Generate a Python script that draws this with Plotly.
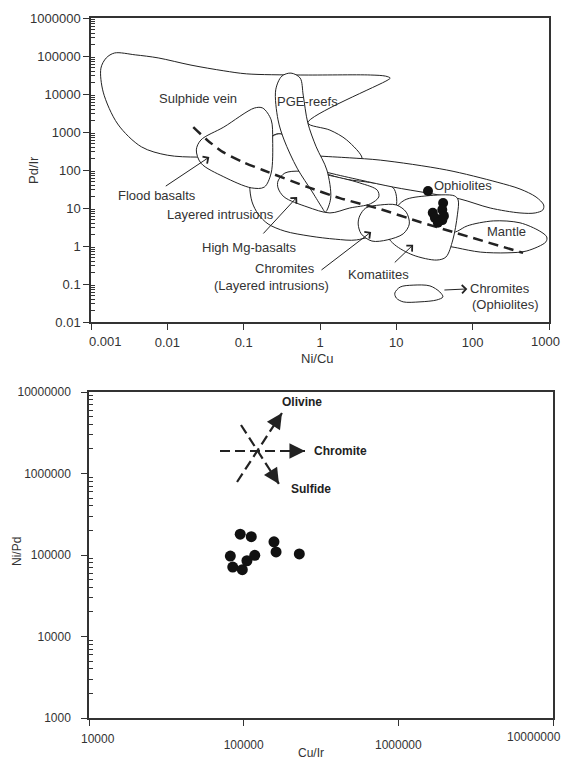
import math
import plotly.graph_objects as go

# ---------------- Top panel: Pd/Ir vs Ni/Cu ----------------
TOP_X_TICKS = [0.001, 0.01, 0.1, 1, 10, 100, 1000]
TOP_X_LABELS = ["0.001", "0.01", "0.1", "1", "10", "100", "1000"]
TOP_Y_TICKS = [0.01, 0.1, 1, 10, 100, 1000, 10000, 100000, 1000000]
TOP_Y_LABELS = ["0.01", "0.1", "1", "10", "100", "1000", "10000", "100000", "1000000"]

# samples (Ni/Cu, Pd/Ir)
SAMPLE_NI_CU = [26, 41, 40, 30, 32, 40, 35, 42]
SAMPLE_PD_IR = [28, 13.5, 9, 7.5, 5.5, 4.8, 4.1, 6.2]

# field outlines, given as log10(Ni/Cu), log10(Pd/Ir)
SULPHIDE_VEIN_LX = [0.92, 0.89, -0.16, 0.13, 0.35, 0.55, 0.33, 0.00, -0.20, -0.39, -0.56, -0.72,
                    -1.18, -1.60, -2.00, -2.34, -2.65, -2.84, -2.87, -2.80, -2.69, -2.42, -2.12,
                    -1.69, -1.26, -0.96, -0.26, 0.66, 0.86, 0.92]
SULPHIDE_VEIN_LY = [4.42, 4.37, 3.24, 3.05, 2.79, 2.30, 2.18, 2.25, 2.66, 2.87, 2.95, 2.79,
                    2.39, 2.34, 2.39, 2.61, 3.21, 4.05, 4.68, 4.95, 5.08, 5.03, 4.95,
                    4.76, 4.61, 4.53, 4.50, 4.50, 4.47, 4.42]

LAYERED_LX = [-0.76, -0.89, -0.92, -0.89, -0.81, -0.68, -0.46, -0.13, 0.20, 0.48, 0.79, 0.85,
              1.00, 0.96, 0.69, 0.26, 0.00, -0.26, -0.51, -0.62, -0.76]
LAYERED_LY = [2.53, 1.87, 1.58, 1.16, 0.84, 0.58, 0.39, 0.26, 0.18, 0.16, 0.37, 0.55,
              1.05, 1.53, 1.66, 1.79, 2.00, 2.53, 2.95, 2.89, 2.53]

BAND_LX = [-0.13, -0.03, 0.39, 0.79, 1.66, 2.32, 2.62, 2.83, 2.93, 2.92, 2.82, 2.62, 2.23,
           1.83, 1.42, 0.96, 0.52, 0.13, -0.10, -0.13]
BAND_LY = [2.39, 2.37, 2.32, 2.26, 2.00, 1.68, 1.50, 1.29, 1.08, 0.95, 0.87, 0.87, 1.00,
           1.24, 1.39, 1.55, 1.74, 1.92, 2.05, 2.39]

MANTLE_LX = [1.57, 1.80, 1.93, 2.27, 2.62, 2.88, 2.97, 2.96, 2.71, 2.45, 2.10, 1.80, 1.64, 1.57]
MANTLE_LY = [0.21, 0.39, 0.53, 0.66, 0.61, 0.39, 0.24, 0.11, -0.13, -0.18, -0.16, -0.05, 0.03, 0.21]

KOMATIITE_LX = [0.89, 0.98, 1.22, 1.53, 1.65, 1.74, 1.80, 1.81, 1.76, 1.40, 1.11, 0.98, 0.89]
KOMATIITE_LY = [0.26, 0.03, -0.24, -0.37, -0.29, 0.16, 0.82, 1.21, 1.32, 1.32, 1.21, 0.95, 0.26]

HIGHMG_LX = [-0.55, -0.46, -0.26, 0.09, 0.52, 0.75, 0.77, 0.66, 0.39, 0.13, -0.17, -0.47, -0.55, -0.55]
HIGHMG_LY = [1.71, 1.92, 1.97, 1.87, 1.66, 1.47, 1.29, 1.11, 1.00, 0.87, 1.03, 1.29, 1.53, 1.71]

PGE_LX = [0.07, 0.14, 0.09, -0.05, -0.16, -0.22, -0.26, -0.38, -0.50, -0.58, -0.55, -0.47,
          -0.30, -0.10, 0.03, 0.07]
PGE_LY = [0.89, 1.26, 2.00, 2.61, 3.24, 3.97, 4.42, 4.55, 4.47, 4.11, 3.32, 2.79,
          2.05, 1.42, 1.00, 0.89]

FLOOD_LX = [-0.62, -0.64, -0.75, -0.86, -1.26, -1.56, -1.62, -1.56, -1.26, -0.90, -0.73, -0.64, -0.62]
FLOOD_LY = [2.79, 3.32, 3.63, 3.63, 3.13, 2.79, 2.53, 2.18, 1.82, 1.53, 1.55, 1.92, 2.79]

CHROM_LAY_LX = [0.52, 0.60, 0.79, 1.00, 1.13, 1.17, 1.09, 0.88, 0.68, 0.54, 0.50, 0.52]
CHROM_LAY_LY = [0.79, 1.00, 1.08, 1.08, 0.89, 0.58, 0.32, 0.16, 0.13, 0.32, 0.58, 0.79]

CHROM_OPH_LX = [0.98, 1.05, 1.22, 1.44, 1.57, 1.61, 1.53, 1.31, 1.09, 1.00, 0.98]
CHROM_OPH_LY = [-1.24, -1.08, -1.03, -1.05, -1.21, -1.34, -1.42, -1.47, -1.47, -1.37, -1.24]

TREND_LX = [-1.66, -1.48, -1.27, -1.01, -0.75, -0.16, 0.26, 0.79, 1.31, 1.74, 2.66]
TREND_LY = [3.13, 2.79, 2.47, 2.21, 2.00, 1.55, 1.26, 0.97, 0.63, 0.37, -0.18]

# labels: text, log x, log y
FIELD_LABELS = ["Sulphide vein", "PGE-reefs", "Flood basalts", "Layered intrusions",
                "High Mg-basalts", "Chromites", "(Layered intrusions)", "Komatiites",
                "Ophiolites", "Mantle", "Chromites", "(Ophiolites)"]
FIELD_LABEL_LX = [-1.60, -0.16, -2.14, -1.30, -0.93, -0.46, -0.64, 0.76, 1.87, 2.44, 2.36, 2.43]
FIELD_LABEL_LY = [3.87, 3.79, 1.32, 0.84, -0.03, -0.58, -1.05, -0.74, 1.58, 0.39, -1.13, -1.55]

# pointer arrows: tail (log) -> head (log)
POINTER_TAIL_LX = [-2.04, -0.76, 0.00, 0.96, 1.61]
POINTER_TAIL_LY = [1.55, 0.29, -0.66, -0.47, -1.16]
POINTER_HEAD_LX = [-1.45, -0.30, 0.67, 1.22, 1.93]
POINTER_HEAD_LY = [2.34, 1.29, 0.37, 0.03, -1.13]

# ---------------- Bottom panel: Ni/Pd vs Cu/Ir ----------------
BOT_X_TICKS = [10000, 100000, 1000000, 10000000]
BOT_X_LABELS = ["10000", "100000", "1000000", "10000000"]
BOT_Y_TICKS = [1000, 10000, 100000, 1000000, 10000000]
BOT_Y_LABELS = ["1000", "10000", "100000", "1000000", "10000000"]

CU_IR = [95000, 112000, 82000, 85000, 98000, 105000, 118000, 157000, 162000, 229000]
NI_PD = [180000, 168000, 97000, 71000, 66000, 85000, 99000, 145000, 109000, 103000]

# trend vectors (tail -> tip)
VEC_NAMES = ["Olivine", "Chromite", "Sulfide"]
VEC_TAIL_X = [90600, 70300, 96100]
VEC_TAIL_Y = [787000, 1888000, 3936000]
VEC_TIP_X = [176900, 249300, 169200]
VEC_TIP_Y = [5524000, 1888000, 743300]
VEC_LABEL_X = [237000, 420000, 271000]
VEC_LABEL_Y = [7600000, 1888000, 646000]

LINE_C = "#222222"
TEXT_C = "#333333"
FONT = "Liberation Sans, Arial, sans-serif"
W, H = 561, 759

fig = go.Figure()


def outline(lx, ly):
    fig.add_trace(go.Scatter(
        x=[10 ** v for v in lx], y=[10 ** v for v in ly],
        mode="lines", fill="toself", fillcolor="white",
        line=dict(color=LINE_C, width=1, shape="spline", smoothing=0.9),
        hoverinfo="skip", showlegend=False, xaxis="x", yaxis="y"))


for lx, ly in [(SULPHIDE_VEIN_LX, SULPHIDE_VEIN_LY), (LAYERED_LX, LAYERED_LY),
               (BAND_LX, BAND_LY), (MANTLE_LX, MANTLE_LY), (KOMATIITE_LX, KOMATIITE_LY),
               (HIGHMG_LX, HIGHMG_LY), (PGE_LX, PGE_LY), (FLOOD_LX, FLOOD_LY),
               (CHROM_LAY_LX, CHROM_LAY_LY), (CHROM_OPH_LX, CHROM_OPH_LY)]:
    outline(lx, ly)

fig.add_trace(go.Scatter(
    x=[10 ** v for v in TREND_LX], y=[10 ** v for v in TREND_LY], mode="lines",
    line=dict(color=LINE_C, width=2.5, dash="10px,6px", shape="spline", smoothing=0.6),
    hoverinfo="skip", showlegend=False, xaxis="x", yaxis="y"))

fig.add_trace(go.Scatter(
    x=SAMPLE_NI_CU, y=SAMPLE_PD_IR, mode="markers",
    marker=dict(color="#111111", size=10),
    hoverinfo="skip", showlegend=False, xaxis="x", yaxis="y"))

# bottom panel
for i in range(len(VEC_NAMES)):
    fig.add_trace(go.Scatter(
        x=[VEC_TAIL_X[i], VEC_TIP_X[i]], y=[VEC_TAIL_Y[i], VEC_TIP_Y[i]], mode="lines",
        line=dict(color=LINE_C, width=2.2, dash="10px,5px"),
        hoverinfo="skip", showlegend=False, xaxis="x2", yaxis="y2"))

fig.add_trace(go.Scatter(
    x=CU_IR, y=NI_PD, mode="markers", marker=dict(color="#111111", size=11),
    hoverinfo="skip", showlegend=False, xaxis="x2", yaxis="y2"))

# invisible traces to activate the minor-tick overlay axes
fig.add_trace(go.Scatter(x=[1], y=[1], mode="markers", marker=dict(opacity=0),
                         hoverinfo="skip", showlegend=False, xaxis="x", yaxis="y3"))
fig.add_trace(go.Scatter(x=[100000], y=[100000], mode="markers", marker=dict(opacity=0),
                         hoverinfo="skip", showlegend=False, xaxis="x2", yaxis="y4"))

ann = []
for t, lx, ly in zip(FIELD_LABELS, FIELD_LABEL_LX, FIELD_LABEL_LY):
    ann.append(dict(x=lx, y=ly, xref="x", yref="y", text=t, showarrow=False,
                    xanchor="center", yanchor="middle",
                    font=dict(family=FONT, size=13, color=TEXT_C)))
for tx, ty, hx, hy in zip(POINTER_TAIL_LX, POINTER_TAIL_LY, POINTER_HEAD_LX, POINTER_HEAD_LY):
    ann.append(dict(x=hx, y=hy, ax=tx, ay=ty, xref="x", yref="y", axref="x", ayref="y",
                    text="", showarrow=True, arrowhead=4, arrowsize=1.6, arrowwidth=1,
                    arrowcolor=LINE_C, standoff=0))

HEAD_FRAC = [0.17, 0.165, 0.2]
for i in range(len(VEC_NAMES)):
    tx, ty = math.log10(VEC_TAIL_X[i]), math.log10(VEC_TAIL_Y[i])
    hx, hy = math.log10(VEC_TIP_X[i]), math.log10(VEC_TIP_Y[i])
    f = HEAD_FRAC[i]
    ann.append(dict(x=hx, y=hy, ax=hx + f * (tx - hx), ay=hy + f * (ty - hy),
                    xref="x2", yref="y2", axref="x2", ayref="y2", text="",
                    showarrow=True, arrowhead=2, arrowsize=2.6, arrowwidth=1.2,
                    arrowcolor=LINE_C, standoff=0))
    ann.append(dict(x=math.log10(VEC_LABEL_X[i]), y=math.log10(VEC_LABEL_Y[i]),
                    xref="x2", yref="y2", text="<b>%s</b>" % VEC_NAMES[i], showarrow=False,
                    xanchor="center", yanchor="middle",
                    font=dict(family=FONT, size=12, color="#222222")))


def paper_text(px, py, text, size, angle=0):
    return dict(x=px / W, y=1 - py / H, xref="paper", yref="paper", text=text,
                textangle=angle, showarrow=False, xanchor="center", yanchor="middle",
                font=dict(family=FONT, size=size, color=TEXT_C))


# axis titles
ann += [
    paper_text(34, 170, "Pd/Ir", 13, -90),
    paper_text(317, 358, "Ni/Cu", 13),
    paper_text(17, 552, "Ni/Pd", 12, -90),
    paper_text(311, 753, "Cu/Ir", 12),
]

# edge tick labels (shifted inward as in the original)
ann += [
    paper_text(106, 341, TOP_X_LABELS[0], 13),
    paper_text(545, 341, TOP_X_LABELS[-1], 13),
    paper_text(98, 739, BOT_X_LABELS[0], 12),
    paper_text(534, 737, BOT_X_LABELS[-1], 12),
]

top_x_text = [""] + TOP_X_LABELS[1:-1] + [""]
bot_x_text = [""] + BOT_X_LABELS[1:-1] + [""]

# minor tick positions (2..9 within each decade)
TOP_MINOR = [k * 10.0 ** d for d in range(-2, 6) for k in range(2, 10)]
BOT_MINOR = [k * 10.0 ** d for d in range(3, 7) for k in range(2, 10)]

axis_common = dict(type="log", showline=True, linecolor="#333333", linewidth=1.5, mirror=True,
                   ticks="outside", ticklen=6, tickwidth=1.2, tickcolor="#333333",
                   showgrid=False, zeroline=False, tickmode="array", automargin=False,
                   ticklabeloverflow="allow")
minor_common = dict(type="log", showline=False, showgrid=False, zeroline=False,
                    tickmode="array", ticks="inside", ticklen=4, tickwidth=1,
                    tickcolor="#333333", showticklabels=False, automargin=False)

TOP_YDOM = [1 - 322 / H, 1 - 18 / H]
BOT_YDOM = [1 - 718 / H, 1 - 392 / H]

fig.update_layout(
    width=W, height=H, margin=dict(l=0, r=0, t=0, b=0, autoexpand=False),
    paper_bgcolor="white", plot_bgcolor="white", showlegend=False,
    font=dict(family=FONT, color=TEXT_C),
    xaxis=dict(axis_common, range=[-3, 3], domain=[91 / W, 549 / W], anchor="y",
               tickvals=TOP_X_TICKS, ticktext=top_x_text, ticklabelstandoff=2,
               tickfont=dict(family=FONT, size=13, color=TEXT_C)),
    yaxis=dict(axis_common, range=[-2, 6], domain=TOP_YDOM, anchor="x",
               tickvals=TOP_Y_TICKS, ticktext=TOP_Y_LABELS,
               tickfont=dict(family=FONT, size=13, color=TEXT_C)),
    yaxis3=dict(minor_common, range=[-2, 6], domain=TOP_YDOM, anchor="x", overlaying="y",
                tickvals=TOP_MINOR),
    xaxis2=dict(axis_common, range=[4, 7], domain=[89 / W, 553 / W], anchor="y2",
                tickvals=BOT_X_TICKS, ticktext=bot_x_text, ticklabelstandoff=9,
                tickfont=dict(family=FONT, size=12, color=TEXT_C)),
    yaxis2=dict(axis_common, range=[3, 7], domain=BOT_YDOM, anchor="x2",
                tickvals=BOT_Y_TICKS, ticktext=BOT_Y_LABELS, ticklabelstandoff=8,
                tickfont=dict(family=FONT, size=12, color=TEXT_C)),
    yaxis4=dict(minor_common, range=[3, 7], domain=BOT_YDOM, anchor="x2", overlaying="y2",
                tickvals=BOT_MINOR),
    annotations=ann,
)

fig.write_html("out.html")
